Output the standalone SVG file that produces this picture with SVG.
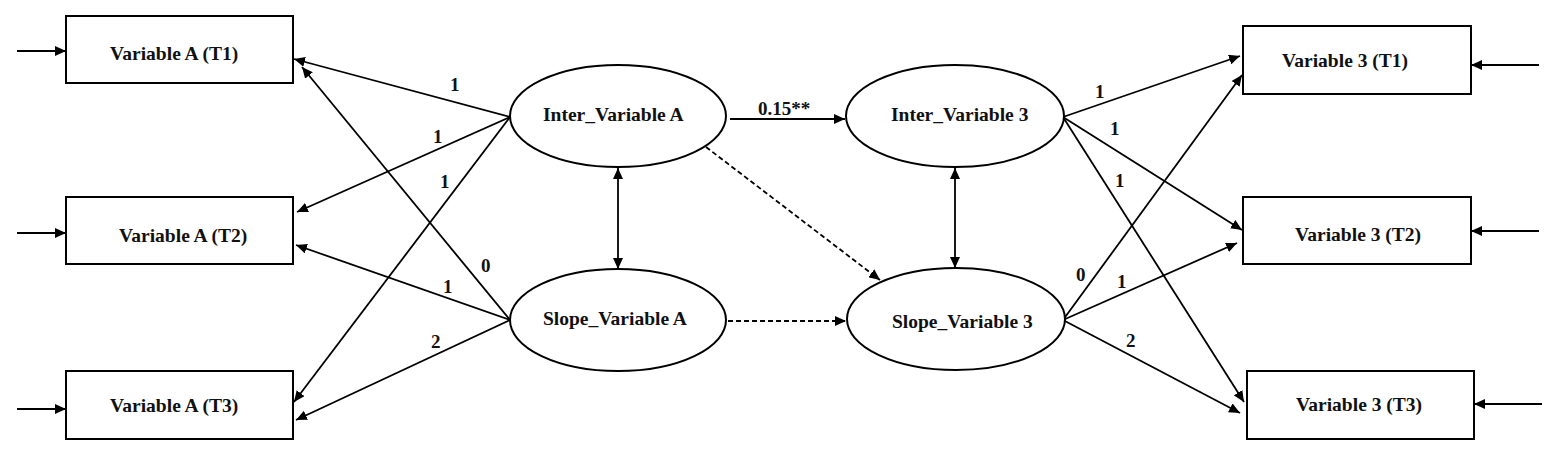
<svg xmlns="http://www.w3.org/2000/svg" width="1555" height="453" viewBox="0 0 1555 453">
<style>
.box{fill:#fff;stroke:#000;stroke-width:2}
.ell{fill:#fff;stroke:#000;stroke-width:2}
.t{font-family:"Liberation Serif",serif;font-weight:bold;font-size:19.5px;fill:#111}
.lt{font-family:"Liberation Serif",serif;font-weight:bold;font-size:19px;fill:#111}
.c{stroke:#000;stroke-width:1.8;fill:none;marker-end:url(#ah)}
.d{stroke-dasharray:5,3}
.b{marker-start:url(#ahs)}
</style>
<defs>
<marker id="ah" markerUnits="userSpaceOnUse" markerWidth="12" markerHeight="10" refX="11" refY="5" orient="auto"><path d="M0,0 L11,5 L0,10 Z" fill="#000"/></marker>
<marker id="ahs" markerUnits="userSpaceOnUse" markerWidth="12" markerHeight="10" refX="11" refY="5" orient="auto-start-reverse"><path d="M0,0 L11,5 L0,10 Z" fill="#000"/></marker>
</defs>
<rect width="1555" height="453" fill="#fff"/>
<g id="connectors">
<line class="c" x1="17" y1="51" x2="66" y2="51"/>
<line class="c" x1="17" y1="233" x2="66" y2="233"/>
<line class="c" x1="17" y1="409" x2="66" y2="409"/>
<line class="c" x1="1539" y1="65" x2="1471" y2="65"/>
<line class="c" x1="1539" y1="231" x2="1471" y2="231"/>
<line class="c" x1="1542" y1="404" x2="1474" y2="404"/>
<line class="c" x1="510" y1="117" x2="294" y2="59"/>
<line class="c" x1="510" y1="117" x2="297" y2="212"/>
<line class="c" x1="510" y1="117" x2="294" y2="402"/>
<line class="c" x1="510" y1="320" x2="302" y2="67"/>
<line class="c" x1="510" y1="320" x2="296" y2="245"/>
<line class="c" x1="510" y1="320" x2="296" y2="420"/>
<line class="c b" x1="618" y1="168" x2="618" y2="269"/>
<line class="c b" x1="955" y1="168" x2="955" y2="268"/>
<line class="c" x1="730" y1="119" x2="845" y2="119"/>
<line class="c d" x1="706" y1="147" x2="880" y2="280"/>
<line class="c d" x1="728" y1="321" x2="846" y2="321"/>
<line class="c" x1="1063" y1="117" x2="1240" y2="56"/>
<line class="c" x1="1063" y1="117" x2="1242" y2="230"/>
<line class="c" x1="1063" y1="117" x2="1244" y2="402"/>
<line class="c" x1="1063" y1="320" x2="1242" y2="75"/>
<line class="c" x1="1063" y1="320" x2="1237" y2="243"/>
<line class="c" x1="1063" y1="320" x2="1240" y2="413"/>
<text class="lt" x="450" y="91">1</text>
<text class="lt" x="433" y="143">1</text>
<text class="lt" x="440" y="188">1</text>
<text class="lt" x="481" y="272">0</text>
<text class="lt" x="443" y="293">1</text>
<text class="lt" x="431" y="348">2</text>
<text class="lt" x="758" y="115">0.15**</text>
<text class="lt" x="1095" y="98">1</text>
<text class="lt" x="1110" y="135">1</text>
<text class="lt" x="1115" y="187">1</text>
<text class="lt" x="1076" y="281">0</text>
<text class="lt" x="1117" y="288">1</text>
<text class="lt" x="1126" y="347">2</text>
</g>
<g id="varA_T1"><rect class="box" x="66" y="16" width="227" height="67"/><text class="t" x="110" y="60">Variable A (T1)</text></g>
<g id="varA_T2"><rect class="box" x="66" y="197" width="227" height="67"/><text class="t" x="119" y="242">Variable A (T2)</text></g>
<g id="varA_T3"><rect class="box" x="66" y="371" width="227" height="68"/><text class="t" x="110" y="412">Variable A (T3)</text></g>
<g id="inter_A"><ellipse class="ell" cx="618" cy="116" rx="108" ry="51"/><text class="t" x="543" y="121">Inter_Variable A</text></g>
<g id="slope_A"><ellipse class="ell" cx="618" cy="320" rx="108" ry="51"/><text class="t" x="543" y="325">Slope_Variable A</text></g>
<g id="inter_3"><ellipse class="ell" cx="955" cy="116" rx="109" ry="51"/><text class="t" x="891" y="121">Inter_Variable 3</text></g>
<g id="slope_3"><ellipse class="ell" cx="956" cy="319" rx="109" ry="51"/><text class="t" x="892" y="328">Slope_Variable 3</text></g>
<g id="var3_T1"><rect class="box" x="1243" y="26" width="228" height="68"/><text class="t" x="1282" y="67">Variable 3 (T1)</text></g>
<g id="var3_T2"><rect class="box" x="1243" y="197" width="228" height="67"/><text class="t" x="1295" y="241">Variable 3 (T2)</text></g>
<g id="var3_T3"><rect class="box" x="1247" y="371" width="227" height="68"/><text class="t" x="1296" y="411">Variable 3 (T3)</text></g>
</svg>
